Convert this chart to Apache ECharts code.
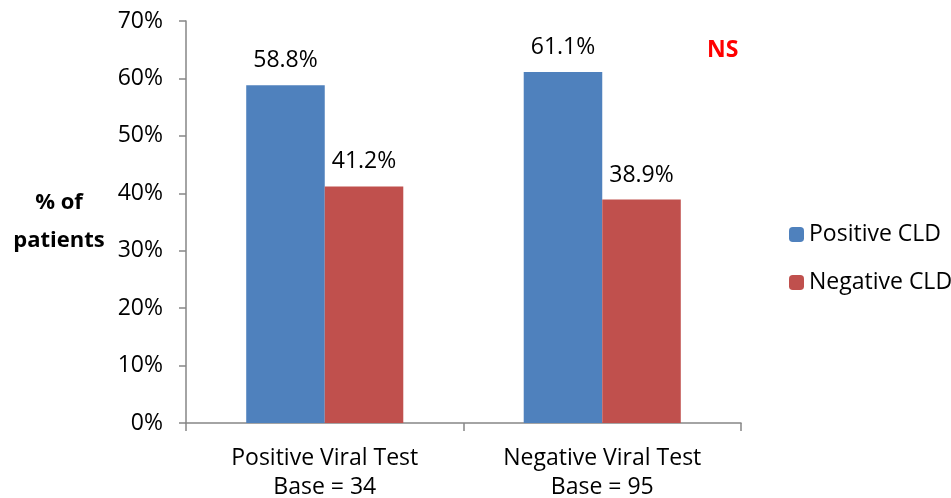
<!DOCTYPE html>
<html><head><meta charset="utf-8">
<script src="https://cdn.jsdelivr.net/npm/echarts@6/dist/echarts.min.js"></script>
<style>html,body{margin:0;padding:0;background:#fff}#c{width:951px;height:498px}</style>
</head><body><div id="c"></div>
<script>
const categories = ['Positive Viral Test\nBase = 34', 'Negative Viral Test\nBase = 95'];
const positiveCLD = [58.8, 61.1];
const negativeCLD = [41.2, 38.9];
const seriesNames = ['Positive CLD', 'Negative CLD'];
const yTicks = [0, 10, 20, 30, 40, 50, 60, 70];

const FONT = '"Open Sans", Lato, sans-serif';
const FS = 23;
const chart = echarts.init(document.getElementById('c'), null, {renderer: 'canvas'});
const labelStyle = {show: true, position: 'top', distance: 13, color: '#000', fontSize: FS, fontFamily: FONT,
  formatter: p => p.value.toFixed(1) + '%'};
chart.setOption({
  animation: false,
  backgroundColor: '#fff',
  textStyle: {fontFamily: FONT},
  grid: {left: 186, right: 210, top: 21, bottom: 75, outerBoundsMode: 'none', containLabel: false},
  legend: {
    orient: 'vertical', left: 784, top: 218, itemWidth: 15, itemHeight: 15, itemGap: 25,
    textStyle: {fontSize: FS, color: '#000', fontFamily: FONT},
    data: seriesNames
  },
  xAxis: {
    type: 'category', data: categories,
    axisLine: {lineStyle: {color: '#868686', width: 1.5}},
    axisTick: {show: true, length: 8, lineStyle: {color: '#868686', width: 1.5}},
    axisLabel: {fontSize: FS, color: '#000', lineHeight: 29, margin: 21, fontFamily: FONT}
  },
  yAxis: {
    type: 'value', min: yTicks[0], max: yTicks[yTicks.length - 1], interval: 10,
    name: '% of\npatients', nameLocation: 'middle', nameGap: 127, nameRotate: 0,
    nameTextStyle: {fontSize: 22, fontWeight: 'bold', color: '#000', lineHeight: 38, fontFamily: FONT, align: 'center'},
    axisLine: {show: true, lineStyle: {color: '#868686', width: 1.5}},
    axisTick: {show: true, length: 7, lineStyle: {color: '#868686', width: 1.5}},
    splitLine: {show: false},
    axisLabel: {fontSize: FS, color: '#000', margin: 23, formatter: v => v + '%', fontFamily: FONT}
  },
  series: [
    {name: seriesNames[0], type: 'bar', data: positiveCLD, barWidth: '28.3%', barGap: '0%',
     itemStyle: {color: '#4f81bd'}, label: labelStyle},
    {name: seriesNames[1], type: 'bar', data: negativeCLD, barWidth: '28.3%',
     itemStyle: {color: '#c0504d'}, label: labelStyle}
  ],
  graphic: [{type: 'text', left: 707, top: 39,
    style: {text: 'NS', fill: '#ff0000', fontSize: FS, fontWeight: 'bold', fontFamily: FONT}}]
});
</script></body></html>
